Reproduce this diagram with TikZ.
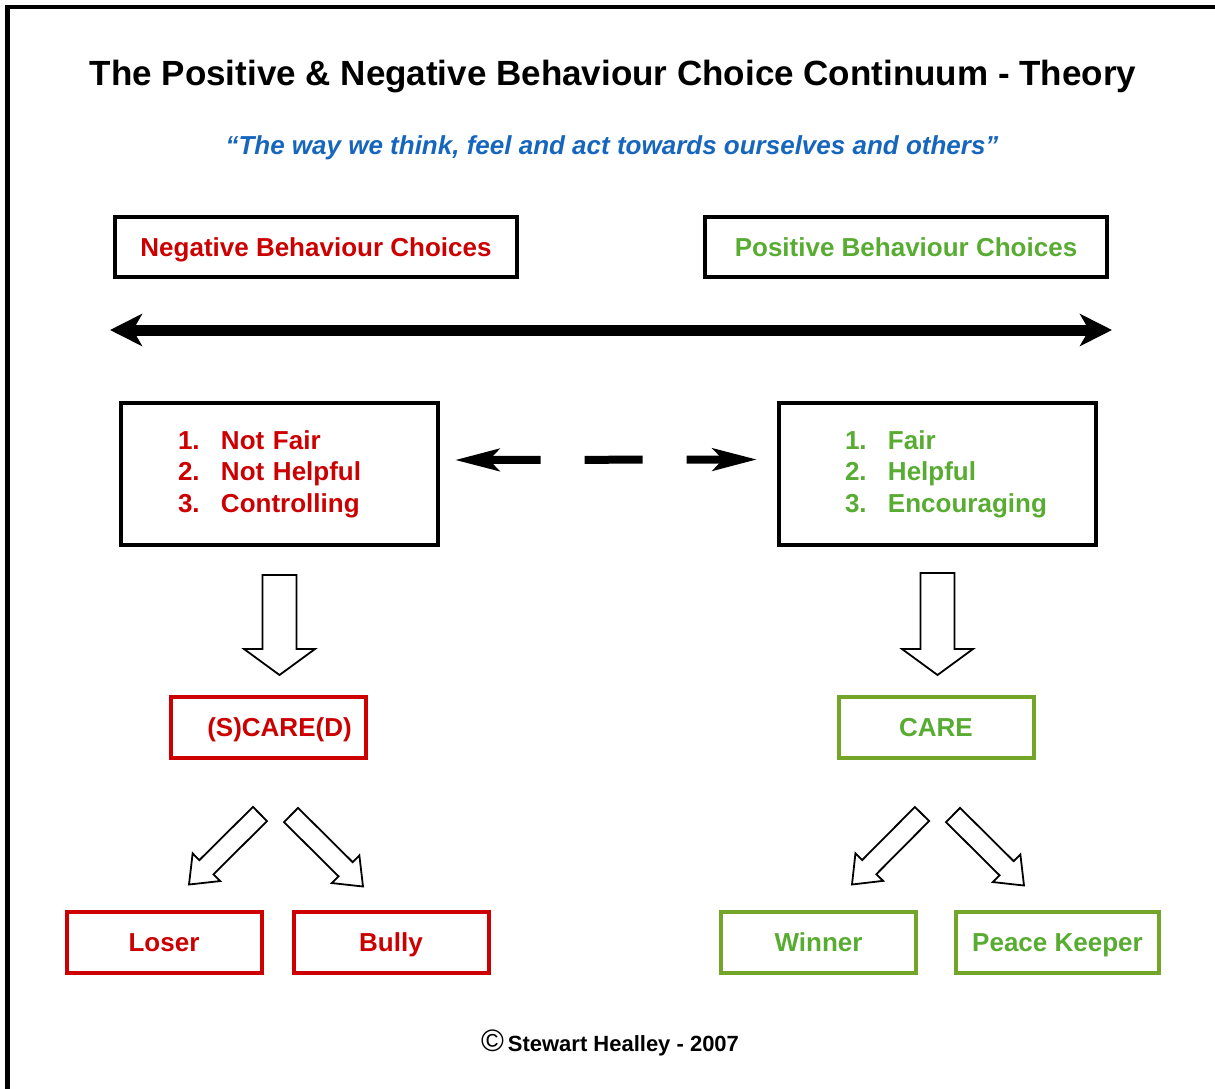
\documentclass[tikz,border=0pt]{standalone}
\usepackage{fontspec}
\setmainfont{Liberation Sans}
\usepackage{tikz}
\usetikzlibrary{positioning}
\usetikzlibrary{arrows.meta,calc}
\definecolor{negred}{RGB}{204,0,0}
\definecolor{postext}{RGB}{88,172,50}
\definecolor{posframe}{RGB}{115,166,40}
\definecolor{mottoblue}{RGB}{22,102,190}
\tikzset{line/.style={draw, line width=11pt, {Stealth[length=32pt,width=32pt,inset=9pt]}-{Stealth[length=32pt,width=32pt,inset=9pt]}}}
\newcommand{\bigfont}{\fontsize{26}{31.5}\selectfont\bfseries}
% hollow block arrow: start, tip, shaft half width, head half width, head length
\newcommand{\blockarrow}[5]{%
  \coordinate (neck) at ($(#2)!#5!(#1)$);
  \draw[hollow] ($(#1)!#3!90:(#2)$) -- ($(neck)!#3!90:(#2)$) -- ($(neck)!#4!90:(#2)$) -- (#2)
    -- ($(neck)!#4!-90:(#2)$) -- ($(neck)!#3!-90:(#2)$) -- ($(#1)!#3!-90:(#2)$) -- cycle;}

\begin{document}
\begin{tikzpicture}[x=1pt,y=-1pt]
\tikzstyle{block} = [rectangle, draw, line width=4pt, minimum width=402pt, minimum height=60pt, text height=18.7pt, text depth=0pt, font=\bigfont]
\tikzstyle{listblock} = [rectangle, draw, line width=4pt, minimum height=142pt, align=left, font=\bigfont]
\tikzstyle{negbox} = [rectangle, draw=negred, line width=4pt, minimum width=195pt, minimum height=61pt, text height=18.7pt, text depth=0pt, text=negred, font=\bigfont]
\tikzstyle{posbox} = [rectangle, draw=posframe, line width=4pt, minimum width=195pt, minimum height=61pt, text height=18.7pt, text depth=0pt, text=postext, font=\bigfont]
\tikzstyle{hollow} = [draw, line width=1.8pt, fill=white, line join=miter]
\tikzstyle{dashline} = [draw, line width=8pt, {Stealth[length=44pt,width=22pt,inset=10pt]}-{Stealth[length=44pt,width=22pt,inset=10pt]}, dash pattern=on 55pt off 44pt on 58pt off 44pt on 200pt off 1pt]

\useasboundingbox (0,0) rectangle (1215,1089);
\fill[white] (0,0) rectangle (1215,1089);
\draw[line width=4.5pt] (7.5,1100) -- (7.5,7) -- (1225,7);

% titles
    \node [anchor=base, font=\fontsize{35}{42}\selectfont\bfseries] (title) at (613,86) {The Positive \& Negative Behaviour Choice Continuum - Theory};
    \node [anchor=base, text=mottoblue, font=\fontsize{26}{31}\selectfont\bfseries\itshape] (motto) at (612,154) {“The way we think, feel and act towards ourselves and others”};
% blocks
    \node [block, text=negred] (negbar) at (316,247) {Negative Behaviour Choices};
    \node [block, text=postext, right=184pt of negbar] (posbar) {Positive Behaviour Choices};
    \node [listblock, text=negred, text width=203pt, inner xsep=57pt] (neglist) at (279.5,474) {\makebox[43pt][l]{1.}Not Fair\\\makebox[43pt][l]{2.}Not Helpful\\\makebox[43pt][l]{3.}Controlling};
    \node [listblock, text=postext, text width=185pt, inner xsep=66pt, right=337pt of neglist] (poslist) {\makebox[43pt][l]{1.}Fair\\\makebox[43pt][l]{2.}Helpful\\\makebox[43pt][l]{3.}Encouraging};
    \node [negbox] (scared) at (268.5,727.5) {\hspace*{22pt}(S)CARE(D)};
    \node [posbox] (care) at (936,727.5) {CARE};
    \node [negbox] (loser) at (164,942) {Loser};
    \node [negbox, right=28pt of loser] (bully) {Bully};
    \node [posbox] (winner) at (818.5,942) {Winner};
    \node [posbox, minimum width=203pt, right=36pt of winner] (peace) {Peace Keeper};
    \node [anchor=base, font=\fontsize{22}{26}\selectfont\bfseries] (copy) at (610,1051) {{\fontsize{31}{31}\selectfont\mdseries ©}\hspace{4pt}Stewart Healley - 2007};
% arrows
    \path [line] ([shift={(-3pt,-51pt)}]negbar.south west) -- ([shift={(3pt,-51pt)}]posbar.south east);
    \path [dashline] ([shift={(15pt,14pt)}]neglist.east) -- ([shift={(-20pt,14.5pt)}]poslist.west);
    \coordinate (negdown) at ([yshift=-28pt]neglist.south);
    \coordinate (negdowntip) at ([yshift=20pt]neglist.south |- scared.north);
    \coordinate (posdown) at ([yshift=-26pt]poslist.south);
    \coordinate (posdowntip) at ([yshift=20pt]poslist.south |- care.north);
    \blockarrow{negdown}{negdowntip}{17pt}{35.5pt}{26pt}
    \blockarrow{posdown}{posdowntip}{17pt}{35.5pt}{26pt}
    \coordinate (toloser) at ([shift={(-8.5pt,-54pt)}]scared.south);
    \coordinate (loserend) at ([shift={(25pt,25pt)}]loser.north);
    \coordinate (tobully) at ([shift={(22.5pt,-55pt)}]scared.south);
    \coordinate (bullyend) at ([shift={(-28pt,23pt)}]bully.north);
    \coordinate (towinner) at ([shift={(-14pt,-54pt)}]care.south);
    \coordinate (winnerend) at ([shift={(33.5pt,25pt)}]winner.north);
    \coordinate (topeace) at ([shift={(17pt,-55pt)}]care.south);
    \coordinate (peaceend) at ([shift={(-33.5pt,24pt)}]peace.north);
    \blockarrow{toloser}{loserend}{10pt}{19.5pt}{24.5pt}
    \blockarrow{tobully}{bullyend}{10pt}{19.5pt}{24.5pt}
    \blockarrow{towinner}{winnerend}{10pt}{19.5pt}{24.5pt}
    \blockarrow{topeace}{peaceend}{10pt}{19.5pt}{24.5pt}
\end{tikzpicture}
\end{document}
